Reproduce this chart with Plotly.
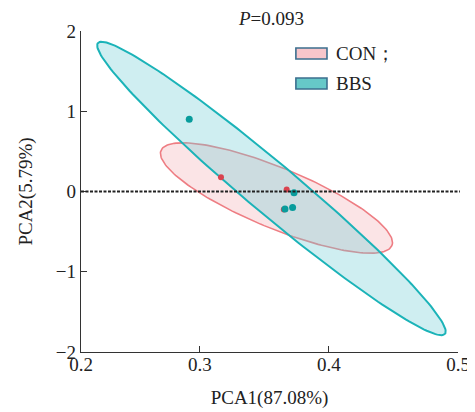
import numpy as np
import plotly.graph_objects as go

# ---- data ----
groups = ["CON；", "BBS"]
con_x = [0.3163, 0.3672, 0.3650]
con_y = [0.179, 0.025, -0.225]
bbs_x = [0.2917, 0.3729, 0.3659, 0.3718]
bbs_y = [0.900, -0.017, -0.217, -0.200]

# ellipse parameters (data units): centre, major half-vector, minor half-vector
con_center = [0.3593, -0.081]
con_major = [0.0895, -0.5925]
con_minor = [-0.00888, -0.349]
bbs_center = [0.3554, 0.0375]
bbs_major = [0.1345, -1.8125]
bbs_minor = [-0.0124, -0.240]

p_value = "0.093"
x_tickvals = [0.2078, 0.3, 0.4, 0.5]
x_ticktext = ["0.2", "0.3", "0.4", "0.5"]
y_tickvals = [-2, -1, 0, 1, 2]
x_title = "PCA1(87.08%)"
y_title = "PCA2(5.79%)"

# ---- styles ----
FONT = "Liberation Serif"
con_line = "#ee7d83"
con_fill = "rgba(240,150,160,0.26)"
con_pt = "#d9434f"
bbs_line = "#1bb3b8"
bbs_fill = "rgba(115,205,215,0.34)"
bbs_pt = "#089c9c"


def ellipse(center, major, minor, n=200):
    t = np.linspace(0, 2 * np.pi, n)
    x = center[0] + major[0] * np.cos(t) + minor[0] * np.sin(t)
    y = center[1] + major[1] * np.cos(t) + minor[1] * np.sin(t)
    return x, y


fig = go.Figure()
ex, ey = ellipse(con_center, con_major, con_minor)
fig.add_trace(go.Scatter(x=ex, y=ey, mode="lines", fill="toself",
                         fillcolor=con_fill, line=dict(color=con_line, width=1.6),
                         name=groups[0], showlegend=False, hoverinfo="skip"))
ex, ey = ellipse(bbs_center, bbs_major, bbs_minor)
fig.add_trace(go.Scatter(x=ex, y=ey, mode="lines", fill="toself",
                         fillcolor=bbs_fill, line=dict(color=bbs_line, width=2),
                         name=groups[1], showlegend=False, hoverinfo="skip"))
fig.add_trace(go.Scatter(x=con_x, y=con_y, mode="markers",
                         marker=dict(color=con_pt, size=6), showlegend=False))
fig.add_trace(go.Scatter(x=bbs_x, y=bbs_y, mode="markers",
                         marker=dict(color=bbs_pt, size=7), showlegend=False))

# zero reference line
fig.add_shape(type="line", xref="x domain", yref="y", x0=0, x1=1.005, y0=0, y1=0,
              line=dict(color="#222222", width=2, dash="3px,1.5px"))

# custom legend
leg = [(0.947, 0.913, "#f7c6cb", groups[0], 0.930),
       (0.8536, 0.8193, "#66c8c8", groups[1], 0.8364)]
for y0, y1, fc, txt, yc in leg:
    fig.add_shape(type="rect", xref="paper", yref="paper", x0=0.570, x1=0.6525,
                  y0=y1, y1=y0, fillcolor=fc, line=dict(color="#3c6f8f", width=1.6))
    fig.add_annotation(xref="paper", yref="paper", x=0.672, y=yc, text=txt,
                       showarrow=False, xanchor="left", yanchor="middle",
                       font=dict(family=FONT, size=19, color="#222"))

fig.add_annotation(xref="paper", yref="paper", x=0.505, y=1.0, yshift=13,
                   text="<i>P</i>=" + p_value, showarrow=False,
                   xanchor="center", yanchor="middle",
                   font=dict(family=FONT, size=19, color="#222"))

axis_common = dict(showgrid=False, zeroline=False, showline=True, linecolor="#333",
                   linewidth=1.3, ticks="inside", ticklen=6, tickcolor="#333",
                   tickfont=dict(family=FONT, size=19, color="#222"))
fig.update_xaxes(range=[x_tickvals[0], 0.5], tickvals=x_tickvals, ticktext=x_ticktext,
                 ticklabelstandoff=-5,
                 title=dict(text=x_title, font=dict(family=FONT, size=19, color="#222"),
                            standoff=16), **axis_common)
fig.update_yaxes(range=[-2, 2], tickvals=y_tickvals,
                 title=dict(text=y_title, font=dict(family=FONT, size=19, color="#222"),
                            standoff=18), **axis_common)

fig.update_layout(width=467, height=404, margin=dict(l=73, r=17, t=23, b=60, autoexpand=False),
                  plot_bgcolor="white", paper_bgcolor="white", showlegend=False)
fig.write_html("out.html")
